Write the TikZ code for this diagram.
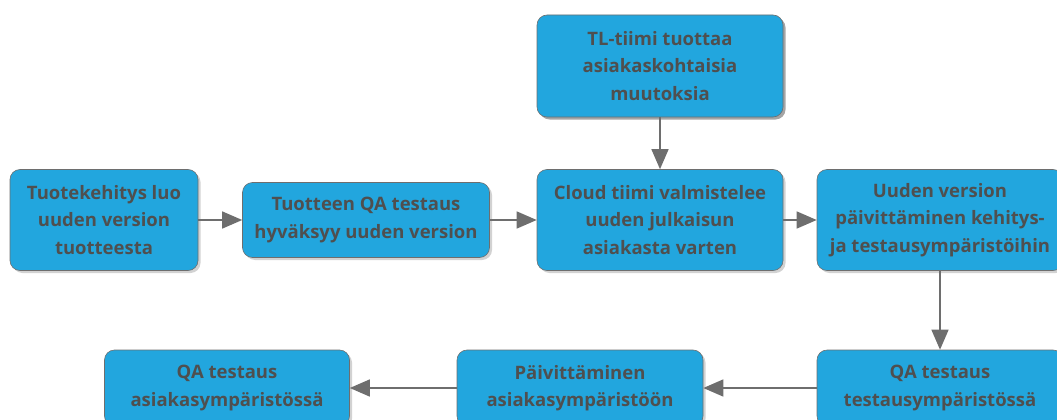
\documentclass[tikz,border=0pt]{standalone}
\usepackage{fontspec}
\setmainfont{Open Sans}
\usepackage{tikz}
\usetikzlibrary{positioning}
\usetikzlibrary{arrows.meta}
\usetikzlibrary{shadows}
\usepackage{xcolor}
\definecolor{boxblue}{HTML}{22A6DE}
\definecolor{boxtext}{HTML}{4F4F4F}
\definecolor{linegray}{HTML}{6E6E6E}

\begin{document}
\begin{tikzpicture}[x=1pt, y=-1pt,
        b/.style={rounded corners=10pt, draw=linegray, line width=0.6pt, fill=boxblue,
            drop shadow={shadow xshift=2.5pt, shadow yshift=-2.5pt, fill=black!#1},
            text=boxtext, align=center, inner sep=0pt,
            font=\fontsize{18.5}{27.5}\selectfont\bfseries},
        b/.default=35,
        arr/.style={draw=linegray, line width=1.4pt, -{Triangle[length=20pt, width=17pt]}}]
        \clip (0,0) rectangle (1057,420);

        \node[b=70, minimum width=246pt, minimum height=102pt] (tl) at (660, 66) {TL-tiimi tuottaa\\asiakaskohtaisia\\muutoksia};
        \node[b, minimum width=188pt, minimum height=101pt] (dev) at (104, 220) {Tuotekehitys luo\\uuden version\\tuotteesta};
        \node[b, minimum width=247pt, minimum height=75pt] (qa) at (366, 220) {Tuotteen QA testaus\\hyväksyy uuden version};
        \node[b, minimum width=246pt, minimum height=101pt] (cloud) at (660, 220) {Cloud tiimi valmistelee\\uuden julkaisun\\asiakasta varten};
        \node[b, minimum width=246pt, minimum height=101pt] (upd) at (940, 220) {Uuden version\\päivittäminen kehitys-\\ja testausympäristöihin};
        \node[b, minimum width=246pt, minimum height=76pt] (qatest) at (940, 388) {QA testaus\\testausympäristössä};
        \node[b, minimum width=246pt, minimum height=76pt] (deploy) at (580, 388) {Päivittäminen\\asiakasympäristöön};
        \node[b, minimum width=245pt, minimum height=76pt] (qacust) at (227, 388) {QA testaus\\asiakasympäristössä};

        \draw[arr] (tl) -- (cloud);
        \draw[arr] (dev) -- (qa);
        \draw[arr] (qa) -- (cloud);
        \draw[arr] (cloud) -- (upd);
        \draw[arr] (upd) -- (qatest);
        \draw[arr] (qatest) -- (deploy);
        \draw[arr] (deploy) -- (qacust);
    \end{tikzpicture}
\end{document}
